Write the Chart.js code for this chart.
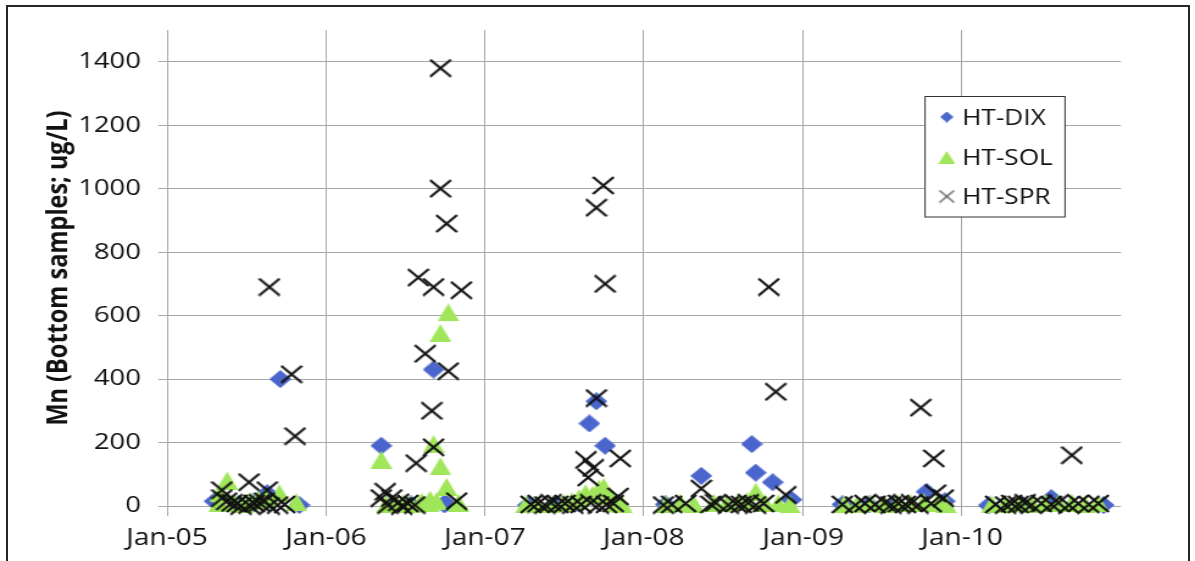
<!DOCTYPE html>
<html>
<head>
<meta charset="utf-8">
<title>Mn bottom samples</title>
<script src="https://cdn.jsdelivr.net/npm/chart.js@4.4.0/dist/chart.umd.min.js"></script>
<style>
  html, body { margin: 0; padding: 0; background: #fff; }
  body { width: 1195px; height: 561px; overflow: hidden; position: relative; }
  #frame { position: absolute; left: 6px; top: 5px; width: 1184px; height: 620px;
           border: 2px solid #262626; box-sizing: border-box; }
  /* chart is drawn narrow and widened, which gives the wide lettering */
  #chart { position: absolute; left: 0; top: 0; transform-origin: 0 0; transform: scaleX(1.2194); }
</style>
</head>
<body>
<div id="frame"></div>
<canvas id="chart" width="980" height="561"></canvas>
<script>
// HT-DIX
const dixDates = [
  '2005-04-20', '2005-06-15', '2005-07-20', '2005-08-19', '2005-09-18', '2005-11-01',
  '2006-05-08', '2006-06-05', '2006-07-15', '2006-09-05', '2006-09-30', '2006-10-02',
  '2007-04-10', '2007-06-10', '2007-08-05', '2007-08-29', '2007-09-14', '2007-10-04',
  '2008-02-20', '2008-05-12', '2008-09-05', '2008-09-14', '2008-10-23', '2008-12-05',
  '2009-04-01', '2009-06-01', '2009-08-01', '2009-10-11', '2009-11-22',
  '2010-03-03', '2010-05-15', '2010-07-25', '2010-11-22'
];
const dixValues = [
  15, 5, 8, 40, 400, 3,
  190, 5, 5, 430, 5, 10,
  3, 5, 8, 260, 330, 190,
  5, 95, 195, 105, 75, 20,
  5, 5, 5, 45, 15,
  2, 5, 25, 3
];

// HT-SOL
const solDates = [
  '2005-05-01', '2005-05-03', '2005-05-19', '2005-06-05', '2005-06-25', '2005-07-12', '2005-07-30', '2005-08-15', '2005-09-16', '2005-10-25',
  '2006-05-08', '2006-05-20', '2006-06-10', '2006-06-28', '2006-07-15', '2006-08-05', '2006-08-10', '2006-08-25', '2006-08-28', '2006-09-05',
  '2006-09-12', '2006-09-21', '2006-09-21', '2006-10-05', '2006-10-09', '2006-11-01',
  '2007-04-05', '2007-05-01', '2007-06-01', '2007-07-01', '2007-07-20', '2007-08-05', '2007-08-20', '2007-09-05', '2007-09-20', '2007-10-01',
  '2007-10-15', '2007-11-01', '2007-11-12',
  '2008-02-20', '2008-03-25', '2008-04-25', '2008-06-10', '2008-07-10', '2008-08-05', '2008-08-25', '2008-09-14', '2008-10-05', '2008-11-05', '2008-12-01',
  '2009-04-05', '2009-05-05', '2009-06-05', '2009-07-05', '2009-08-05', '2009-09-05', '2009-10-05', '2009-11-05', '2009-11-25',
  '2010-03-10', '2010-04-10', '2010-05-10', '2010-06-10', '2010-07-10', '2010-08-10', '2010-09-10', '2010-10-10', '2010-11-10'
];
const solValues = [
  10, 40, 80, 10, 5, 15, 20, 25, 40, 12,
  145, 5, 5, 8, 5, 10, 12, 8, 20, 195,
  15, 545, 125, 60, 610, 10,
  5, 5, 5, 10, 15, 25, 40, 35, 55, 60,
  30, 10, 5,
  5, 10, 5, 10, 8, 12, 15, 45, 10, 8, 5,
  5, 5, 8, 5, 10, 8, 12, 10, 5,
  5, 5, 8, 5, 10, 8, 10, 5, 8
];

// HT-SPR
const sprDates = [
  '2005-05-07', '2005-05-07', '2005-05-18', '2005-05-30', '2005-06-11', '2005-06-20', '2005-07-08', '2005-07-08', '2005-07-20',
  '2005-08-01', '2005-08-13', '2005-08-19', '2005-08-24', '2005-08-24', '2005-09-12', '2005-09-28', '2005-10-14', '2005-10-22',
  '2006-05-08', '2006-05-17', '2006-05-23', '2006-06-01', '2006-06-17', '2006-06-24', '2006-07-08', '2006-07-24', '2006-07-27',
  '2006-08-01', '2006-08-17', '2006-09-01', '2006-09-05', '2006-09-05', '2006-09-21', '2006-09-21', '2006-10-05', '2006-10-09',
  '2006-10-28', '2006-11-08',
  '2007-04-17', '2007-05-03', '2007-05-19', '2007-06-02', '2007-06-18', '2007-07-04', '2007-07-22', '2007-08-10', '2007-08-21',
  '2007-08-26', '2007-09-01', '2007-09-07', '2007-09-14', '2007-09-14', '2007-09-19', '2007-09-30', '2007-10-04', '2007-10-07',
  '2007-10-23', '2007-11-03', '2007-11-08',
  '2008-02-15', '2008-03-05', '2008-04-06', '2008-05-12', '2008-06-03', '2008-06-14', '2008-07-13', '2008-07-30', '2008-08-12',
  '2008-08-28', '2008-09-14', '2008-10-02', '2008-10-14', '2008-10-30', '2008-11-22',
  '2009-04-01', '2009-05-01', '2009-05-23', '2009-06-15', '2009-07-08', '2009-07-22', '2009-08-08', '2009-08-24', '2009-09-07',
  '2009-09-22', '2009-09-28', '2009-10-22', '2009-10-28', '2009-11-01', '2009-11-19',
  '2010-03-19', '2010-04-11', '2010-04-25', '2010-05-10', '2010-05-26', '2010-06-09', '2010-07-02', '2010-07-25', '2010-08-10',
  '2010-09-03', '2010-09-10', '2010-09-25', '2010-10-19', '2010-11-10'
];
const sprValues = [
  50, 25, 15, 10, 8, 0, 75, 3, 8,
  10, 15, 50, 690, 0, 3, 5, 415, 220,
  25, 45, 3, 25, 12, 0, 8, 3, 135,
  720, 480, 300, 690, 185, 1380, 1000, 890, 425,
  15, 680,
  5, 8, 3, 10, 5, 8, 3, 5, 145,
  90, 10, 120, 340, 940, 3, 1010, 700, 5,
  8, 30, 150,
  3, 5, 8, 55, 5, 10, 3, 8, 5,
  10, 3, 8, 690, 360, 35,
  5, 3, 8, 5, 10, 3, 8, 5, 10,
  3, 310, 8, 150, 40, 25,
  5, 3, 8, 5, 10, 3, 8, 5, 10,
  3, 160, 8, 5, 8
];

const yearTicks = ['2005-01-01', '2006-01-01', '2007-01-01', '2008-01-01', '2009-01-01', '2010-01-01'];
const yearLabels = ['Jan-05', 'Jan-06', 'Jan-07', 'Jan-08', 'Jan-09', 'Jan-10'];
const yTicks = [0, 200, 400, 600, 800, 1000, 1200, 1400];

const day = s => Date.parse(s);
const points = (dates, values) => dates.map((d, i) => ({ x: day(d), y: values[i] }));

const FONT = "'Open Sans', 'Noto Sans', sans-serif";
const BLUE = '#4a66cc';
const GREEN = '#a0e65a';
const GRID = '#a6a6a6';

// small canvases used as point styles
function marker(w, h, draw) {
  const c = document.createElement('canvas');
  c.width = w;
  c.height = h;
  draw(c.getContext('2d'), w, h);
  return c;
}
function diamond(w, h) {
  return marker(w, h, (g) => {
    g.fillStyle = BLUE;
    g.beginPath();
    g.moveTo(w / 2, 0); g.lineTo(w, h / 2); g.lineTo(w / 2, h); g.lineTo(0, h / 2);
    g.closePath();
    g.fill();
  });
}
function triangle(w, h) {
  return marker(w, h, (g) => {
    g.fillStyle = GREEN;
    g.beginPath();
    g.moveTo(w / 2, 0); g.lineTo(w, h); g.lineTo(0, h);
    g.closePath();
    g.fill();
  });
}
function cross(w, h, color, lw) {
  return marker(w, h, (g) => {
    g.strokeStyle = color;
    g.lineWidth = lw;
    g.beginPath();
    g.moveTo(1, 1); g.lineTo(w - 1, h - 1);
    g.moveTo(w - 1, 1); g.lineTo(1, h - 1);
    g.stroke();
  });
}

const dixMark = diamond(18, 18);
const solMark = triangle(18, 18);
const sprMark = cross(19, 19, '#111', 2.2);

// boxed legend sitting inside the plot
const boxLegend = {
  id: 'boxLegend',
  afterDraw(chart) {
    const ctx = chart.ctx;
    const items = [
      { label: 'HT-DIX', mark: diamond(11, 11), y: 117 },
      { label: 'HT-SOL', mark: triangle(14, 13), y: 157.5 },
      { label: 'HT-SPR', mark: cross(14, 14, '#555', 1.3), y: 196.5 }
    ];
    ctx.save();
    ctx.fillStyle = '#fff';
    ctx.fillRect(758.6, 96, 114.8, 121);
    ctx.strokeStyle = '#333';
    ctx.lineWidth = 1;
    ctx.strokeRect(758.6, 96.5, 114.8, 120.5);
    ctx.font = '21.5px ' + FONT;
    ctx.fillStyle = '#111';
    ctx.textBaseline = 'alphabetic';
    items.forEach(it => {
      ctx.drawImage(it.mark, 776.4 - it.mark.width / 2, it.y - it.mark.height / 2);
      ctx.fillText(it.label, 789, it.y + 7.8);
    });
    ctx.restore();
  }
};

new Chart(document.getElementById('chart'), {
  type: 'scatter',
  data: {
    datasets: [
      { label: 'HT-DIX', data: points(dixDates, dixValues), pointStyle: dixMark, pointRadius: 9, clip: false, order: 3 },
      { label: 'HT-SOL', data: points(solDates, solValues), pointStyle: solMark, pointRadius: 9, clip: false, order: 2 },
      { label: 'HT-SPR', data: points(sprDates, sprValues), pointStyle: sprMark, pointRadius: 9, clip: false, order: 1 }
    ]
  },
  options: {
    responsive: false,
    animation: false,
    devicePixelRatio: 1,
    layout: { padding: { left: 0, right: 60.7, top: 30, bottom: 0 } },
    plugins: { legend: { display: false }, tooltip: { enabled: false } },
    scales: {
      x: {
        type: 'linear',
        min: day('2005-01-01'),
        max: day('2011-01-01'),
        afterBuildTicks: (s) => { s.ticks = yearTicks.map(d => ({ value: day(d) })); },
        afterFit: (s) => { s.height = 55; },
        ticks: {
          callback: (v, i) => yearLabels[i],
          autoSkip: false,
          maxRotation: 0,
          padding: 9,
          color: '#111',
          font: { family: FONT, size: 23 }
        },
        grid: { color: GRID, lineWidth: 1, tickLength: 10 },
        border: { display: false }
      },
      y: {
        min: 0,
        max: 1500,
        afterBuildTicks: (s) => { s.ticks = yTicks.map(v => ({ value: v })); },
        afterFit: (s) => { s.width = 137; },
        title: {
          display: true,
          text: 'Mn (Bottom samples; ug/L)',
          color: '#111',
          font: { family: FONT, size: 23.5, weight: 'bold' },
          padding: { top: 34, bottom: 0 }
        },
        ticks: {
          callback: (v) => String(v),
          padding: 14,
          color: '#111',
          font: { family: FONT, size: 22.5 }
        },
        grid: { color: GRID, lineWidth: 1, tickLength: 7.4 },
        border: { display: false }
      }
    }
  },
  plugins: [boxLegend]
});
</script>
</body>
</html>
